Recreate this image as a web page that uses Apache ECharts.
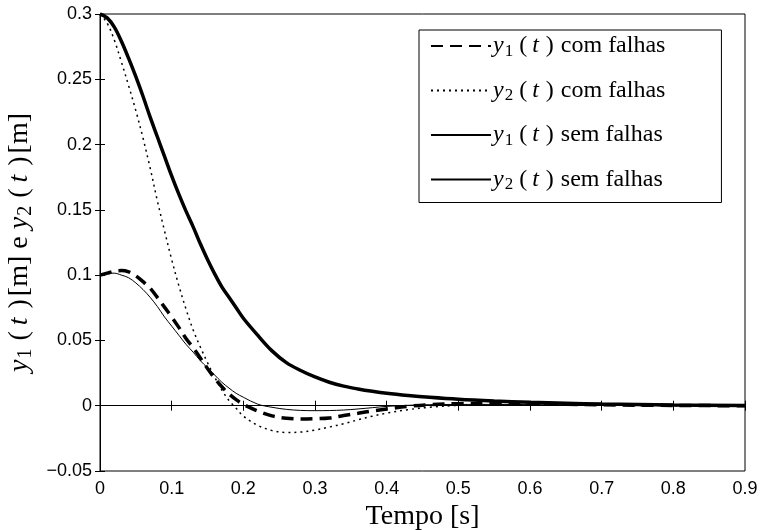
<!DOCTYPE html>
<html>
<head>
<meta charset="utf-8">
<script src="https://cdn.jsdelivr.net/npm/echarts@6/dist/echarts.min.js"></script>
<style>html,body{margin:0;padding:0;background:#fff}#c{width:761px;height:530px}</style>
</head>
<body>
<div id="c"></div>
<script>
var tValues = [0,0.01,0.02,0.03,0.04,0.05,0.06,0.07,0.08,0.09,0.1,0.11,0.12,0.13,0.14,0.15,0.16,0.17,0.18,0.19,0.2,0.22,0.24,0.26,0.28,0.3,0.32,0.34,0.36,0.38,0.4,0.43,0.46,0.5,0.55,0.6,0.65,0.7,0.8,0.9];
var y1ComFalhas = [0.100,0.1015,0.103,0.1035,0.1025,0.0995,0.095,0.090,0.083,0.0755,0.068,0.060,0.0515,0.0445,0.0365,0.0285,0.021,0.0145,0.009,0.0046,0.001,-0.004,-0.0078,-0.0096,-0.0102,-0.0100,-0.0094,-0.0075,-0.0058,-0.004,-0.0025,-0.0005,0.0008,0.0016,0.0018,0.0015,0.0011,0.0007,0.0002,0.0];
var y2ComFalhas = [0.300,0.293,0.280,0.263,0.245,0.226,0.205,0.182,0.157,0.134,0.112,0.092,0.074,0.058,0.045,0.033,0.022,0.012,0.004,-0.002,-0.008,-0.015,-0.019,-0.0205,-0.0202,-0.0186,-0.0163,-0.0138,-0.0108,-0.008,-0.0057,-0.003,-0.0012,0.0003,0.0008,0.0008,0.0006,0.0004,0.0001,0.0];
var y1SemFalhas = [0.100,0.1015,0.1015,0.100,0.098,0.094,0.089,0.083,0.076,0.068,0.061,0.054,0.047,0.041,0.0345,0.029,0.0235,0.018,0.0135,0.0095,0.0065,0.0012,-0.0012,-0.0028,-0.0036,-0.0038,-0.0037,-0.0033,-0.0025,-0.0015,-0.0005,0.0003,0.0008,0.001,0.001,0.0008,0.0006,0.0004,0.0001,0.0];
var y2SemFalhas = [0.300,0.297,0.290,0.279,0.266,0.252,0.237,0.221,0.206,0.191,0.176,0.162,0.149,0.137,0.124,0.112,0.101,0.091,0.083,0.075,0.067,0.054,0.042,0.033,0.027,0.022,0.018,0.015,0.0128,0.011,0.0095,0.0078,0.0064,0.0049,0.0036,0.0026,0.0019,0.0013,0.0006,0.0002];

var xTicks = {min: 0, max: 0.9, interval: 0.1};
var yTicks = {min: -0.05, max: 0.3, interval: 0.05};

var seriesNames = [
  '{i|y}{s|1}{lp|(}{t|t}{rp|)}{n|com falhas}',
  '{i|y}{s|2}{lp|(}{t|t}{rp|)}{n|com falhas}',
  '{i|y}{s|1}{lp|(}{t|t}{rp|)}{n|sem falhas}',
  '{i|y}{s|2}{lp|(}{t|t}{rp|)}{n|sem falhas}'
];
var yAxisTitle = '{i|y}{s|1}{lp|(}{t|t}{rp|)}{n|[m] e }{i|y}{s|2}{lp|(}{t|t}{rp|)}{n|[m]}';
var xAxisTitle = 'Tempo [s]';

function pairs(ys){ return tValues.map(function(t,i){ return [t, ys[i]]; }); }

var SERIF = '"Liberation Serif","Times New Roman",serif';
var SANS = '"Liberation Sans",Arial,Helvetica,sans-serif';

function richFor(size, afterParen){
  var k = size / 24;
  var lh = size + 4;
  var base = {fontFamily: SERIF, fontSize: size, lineHeight: lh, verticalAlign: 'middle', color: '#000'};
  function m(extra){ var o = {}; for (var a in base) o[a] = base[a]; for (var b in extra) o[b] = extra[b]; return o; }
  return {
    i: m({fontStyle: 'italic'}),
    s: {fontFamily: SERIF, fontSize: Math.round(size * 0.7), lineHeight: Math.round(size * 0.5), verticalAlign: 'bottom', color: '#000', padding: [0, Math.round(3*k), 0, Math.round(1*k)]},
    lp: m({padding: [0, Math.round(3*k), 0, Math.round(3*k)]}),
    t: m({fontStyle: 'italic', padding: [0, Math.round(4*k), 0, Math.round(2*k)]}),
    rp: m({padding: [0, afterParen, 0, Math.round(3*k)]}),
    n: m({})
  };
}

var chart = echarts.init(document.getElementById('c'), null, {renderer: 'canvas'});

function fmtY(v){
  var r = parseFloat(v.toFixed(3));
  return r < 0 ? '\u2212' + String(Math.abs(r)) : String(r);
}
function fmtX(v){ return String(parseFloat(v.toFixed(3))); }

var option = {
  animation: false,
  backgroundColor: '#fff',
  grid: {left: 100, top: 14, right: 16, bottom: 59, show: true, borderColor: '#000', borderWidth: 1,
         containLabel: false, outerBoundsMode: 'none'},
  legend: {
    orient: 'vertical',
    left: 419, top: 30,
    padding: [4, 56, 9, 11],
    itemGap: 18.5,
    itemWidth: 60,
    itemHeight: 14,
    borderColor: '#000', borderWidth: 1,
    backgroundColor: '#fff',
    itemStyle: {opacity: 0, borderWidth: 0},
    data: seriesNames,
    formatter: function(name){ return name; },
    textStyle: {rich: richFor(24, 7), padding: [0,0,0,-3]}
  },
  xAxis: [{
    type: 'value', min: xTicks.min, max: xTicks.max, interval: xTicks.interval,
    position: 'bottom',
    name: xAxisTitle, nameLocation: 'middle', nameGap: 18,
    nameTextStyle: {fontFamily: SERIF, fontSize: 28, color: '#000'},
    axisLine: {show: true, lineStyle: {color: '#000', width: 1}},
    axisTick: {show: true, inside: true, length: 5, lineStyle: {color: '#000'}},
    axisLabel: {show: true, color: '#000', fontFamily: SANS, fontSize: 18, margin: 9, formatter: fmtX},
    splitLine: {show: false}
  }, {
    type: 'value', min: xTicks.min, max: xTicks.max, interval: xTicks.interval,
    position: 'top',
    axisLine: {show: true, lineStyle: {color: '#000', width: 1}},
    axisTick: {show: true, inside: true, length: 5, lineStyle: {color: '#000'}},
    axisLabel: {show: false},
    splitLine: {show: false}
  }],
  yAxis: [{
    type: 'value', min: yTicks.min, max: yTicks.max, interval: yTicks.interval,
    position: 'left',
    name: yAxisTitle, nameLocation: 'middle', nameGap: 60, nameRotate: 90,
    nameTextStyle: {rich: richFor(28, 3)},
    axisLine: {show: true, lineStyle: {color: '#000', width: 1}},
    axisTick: {show: true, inside: true, length: 5, lineStyle: {color: '#000'}},
    axisLabel: {show: true, color: '#000', fontFamily: SANS, fontSize: 18, margin: 8, formatter: fmtY},
    splitLine: {show: false}
  }, {
    type: 'value', min: yTicks.min, max: yTicks.max, interval: yTicks.interval,
    position: 'right',
    axisLine: {show: true, lineStyle: {color: '#000', width: 1}},
    axisTick: {show: true, inside: true, length: 5, lineStyle: {color: '#000'}},
    axisLabel: {show: false},
    splitLine: {show: false}
  }],
  series: [
    {name: seriesNames[0], type: 'line', data: pairs(y1ComFalhas), symbol: 'none', smooth: 0.35,
     lineStyle: {color: '#000', width: 3.5, type: [12, 7]}, itemStyle: {color: '#000'}, z: 3},
    {name: seriesNames[1], type: 'line', data: pairs(y2ComFalhas), symbol: 'none', smooth: 0.35,
     lineStyle: {color: '#000', width: 1.5, type: [2, 4]}, itemStyle: {color: '#000'}, z: 2},
    {name: seriesNames[2], type: 'line', data: pairs(y1SemFalhas), symbol: 'none', smooth: 0.35,
     lineStyle: {color: '#000', width: 1}, itemStyle: {color: '#000'}, z: 2},
    {name: seriesNames[3], type: 'line', data: pairs(y2SemFalhas), symbol: 'none', smooth: 0.35,
     lineStyle: {color: '#000', width: 3.5}, itemStyle: {color: '#000'}, z: 3}
  ]
};
chart.setOption(option);
</script>
</body>
</html>
